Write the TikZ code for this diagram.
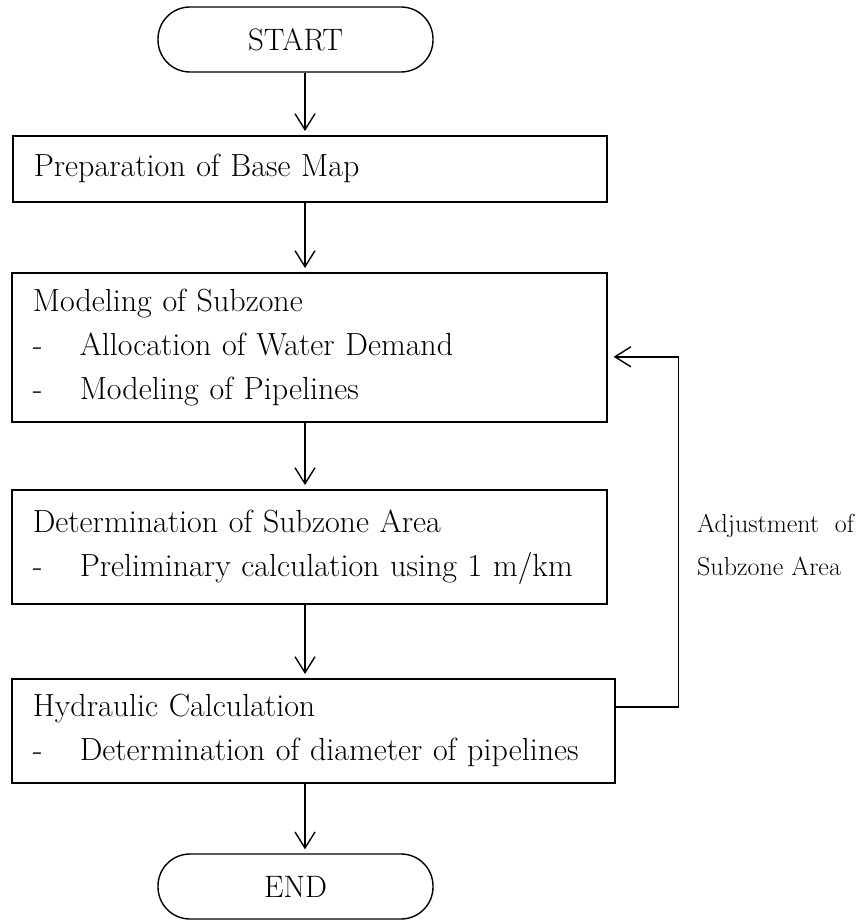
\documentclass[tikz,border=0pt]{standalone}
\usepackage{tikz}
\usetikzlibrary{arrows.meta,positioning}

\tikzset{
  stepbox/.style={draw, line width=1.6pt, align=left, anchor=north west,
    inner xsep=21pt, inner ysep=0pt, font=\fontsize{32}{44}\selectfont},
  termbox/.style={draw, line width=1.4pt, rounded corners=32pt,
    minimum width=275pt, minimum height=65pt, font=\fontsize{31}{36}\selectfont},
  flow/.style={-{Straight Barb[length=16pt,width=20pt]}, line width=1.4pt, shorten >=4pt},
}
\newcommand{\itm}{\makebox[47pt][l]{-}}

\begin{document}
\begin{tikzpicture}[x=1pt, y=-1pt]
  \useasboundingbox (0,0) rectangle (863,920);

  % Terminals
  \node[termbox] (start) at (295.5,39.5) {START};
  \node[termbox] (stop) at (295.5,886.5) {END};

  % Steps
  \node[stepbox, text width=552pt, minimum height=66pt] (prep) at (12,135)
    {Preparation of Base Map};
  \node[stepbox, text width=553pt, minimum height=149pt] (model) at (11,272)
    {Modeling of Subzone\\ \itm Allocation of Water Demand\\ \itm Modeling of Pipelines};
  \node[stepbox, text width=553pt, minimum height=114pt] (area) at (11,489)
    {Determination of Subzone Area\\ \itm Preliminary calculation using 1 m/km};
  \node[stepbox, text width=561pt, minimum height=104pt] (hydro) at (11,678)
    {Hydraulic Calculation\\ \itm Determination of diameter of pipelines};

  % Main flow
  \coordinate (spine) at (305,0);
  \draw[flow] (spine |- start.south) -- (spine |- prep.north);
  \draw[flow] (spine |- prep.south) -- (spine |- model.north);
  \draw[flow] (spine |- model.south) -- (spine |- area.north);
  \draw[flow] (spine |- area.south) -- (spine |- hydro.north);
  \draw[flow] (spine |- hydro.south) -- (spine |- stop.north);

  % Feedback loop
  \draw[flow, shorten >=6pt] ([yshift=-29pt]hydro.north east) -- ++(63,0)
    |- ([yshift=-9.5pt]model.east);
  \node[anchor=north west, inner sep=0pt, align=left,
    font=\fontsize{26}{43}\selectfont] (adjlbl) at (697,514)
    {Adjustment\ \ of\\Subzone Area};
\end{tikzpicture}
\end{document}
